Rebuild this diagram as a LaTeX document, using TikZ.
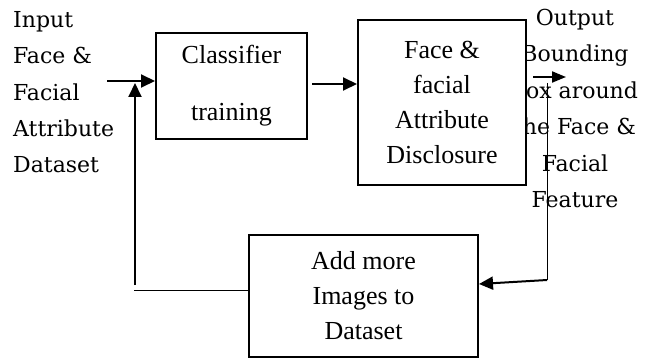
\documentclass[tikz,border=0pt]{standalone}
\usepackage{fontspec}
\setmainfont{Liberation Serif}
\newfontfamily\outfont{DejaVu Serif}
\usetikzlibrary{arrows.meta}
\begin{document}
\begin{tikzpicture}[x=1pt,y=-1pt,
  boxnode/.style={draw,line width=2pt,fill=white,align=center,font=\fontsize{26}{35}\selectfont,inner sep=0pt},
  outtext/.style={align=#1,font=\outfont\fontsize{22}{36.4}\selectfont,inner sep=0pt},
  thickarrow/.style={line width=2pt,-{Triangle[length=14pt,width=13pt]}},
  thickline/.style={line width=2pt},
  thinline/.style={line width=1pt}]
\useasboundingbox (0,0) rectangle (647,358);
% outer texts
\node[outtext=left,anchor=north west] (intext) at (13,11) {Input\\Face \&\\Facial\\Attribute\\Dataset};
\node[outtext=center,anchor=north] (outtxt) at (575,9) {Output\\Bounding\\box around\\the Face \&\\Facial\\Feature};
% boxes
\node[boxnode,minimum width=151,minimum height=106] (box1) at (231.5,86) {Classifier\\[22pt]training};
\node[boxnode,minimum width=168,minimum height=165] (box2) at (442,102.5) {Face \&\\facial\\Attribute\\Disclosure};
\node[boxnode,minimum width=229,minimum height=122] (box3) at (363.5,296) {Add more\\Images to\\Dataset};
% connectors
\coordinate (inl) at (107,81);
\draw[thickarrow] (inl) -- (box1.west |- inl);
\coordinate (m1) at (312,84);
\draw[thickarrow] (m1) -- (box2.west |- m1);
\coordinate (o1) at (533,77);
\coordinate (o2) at (566,77);
\draw[line width=2pt,-{Triangle[length=14pt,width=11pt]}] (o1) -- (o2);
\coordinate (rtop) at (547,83);
\coordinate (rbot) at (547,280);
\draw[thinline] (rtop) -- (rbot);
\draw[thickarrow] (rbot) -- ([yshift=12pt]box3.east);
\coordinate (lcorner) at (134,290);
\draw[thinline] (lcorner) -- (box3.west |- lcorner);
\coordinate (lbot) at (135,285);
\coordinate (ltip) at (135,83);
\draw[thickarrow] (lbot) -- (ltip);
\end{tikzpicture}
\end{document}
